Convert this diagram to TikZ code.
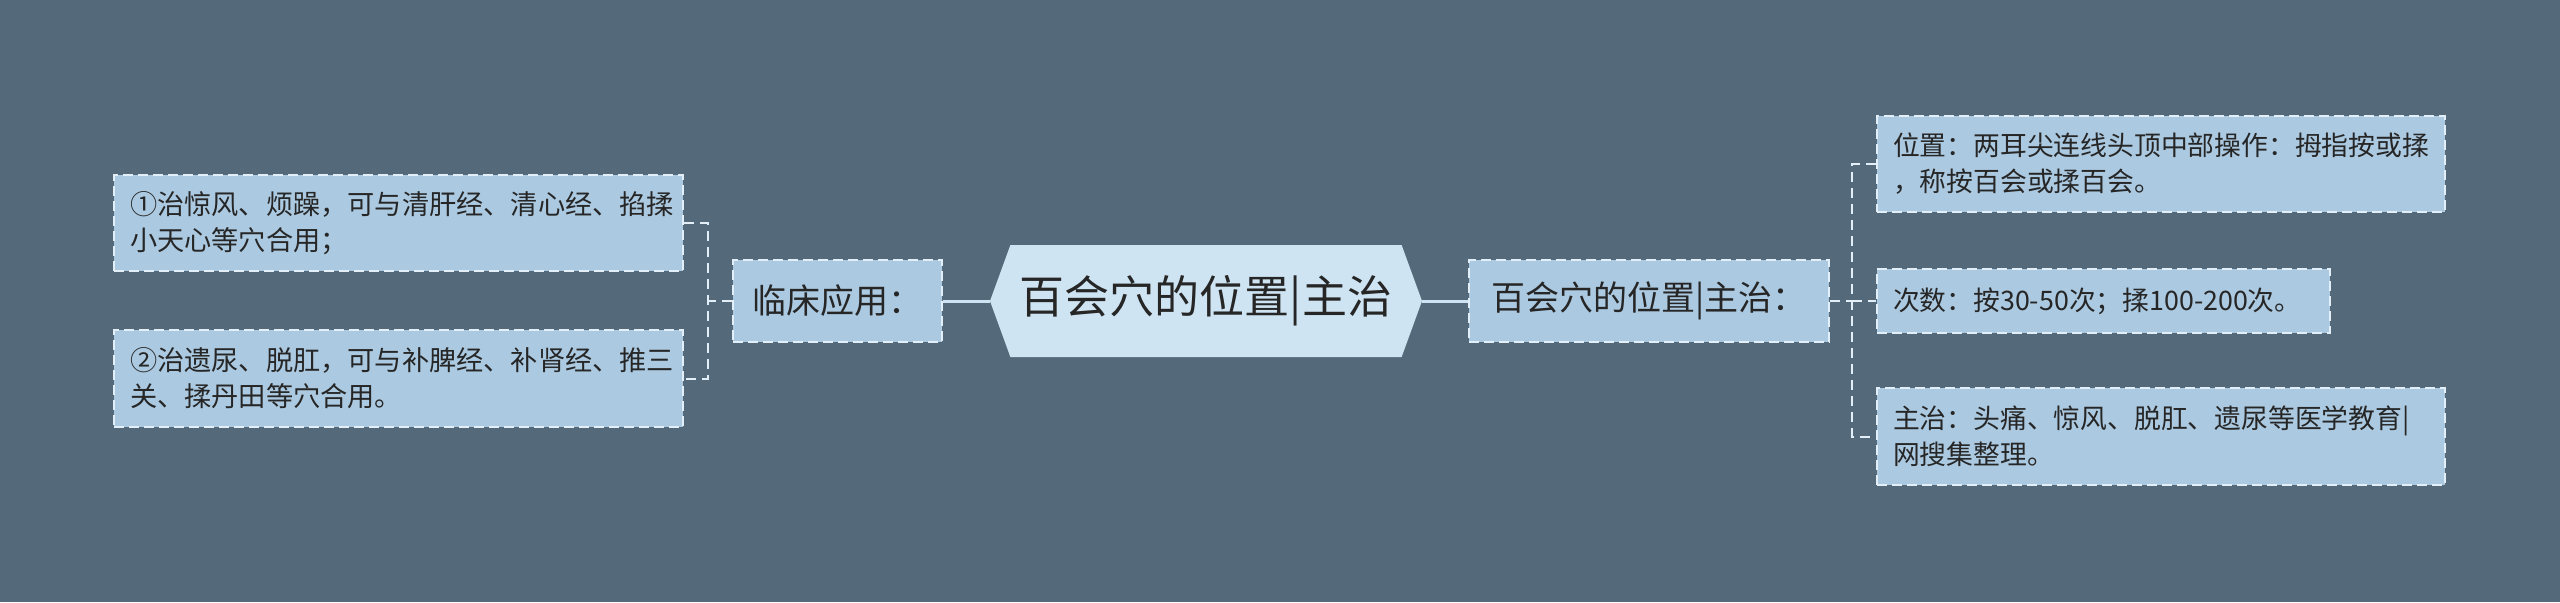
\documentclass[tikz,border=0pt]{standalone}
\usepackage{fontspec}
\setmainfont{Noto Sans CJK SC}
\usetikzlibrary{shapes.symbols, positioning}
\definecolor{bgslate}{RGB}{84,106,122}
\definecolor{boxblue}{RGB}{171,201,224}
\definecolor{hexblue}{RGB}{207,228,242}
\definecolor{dashwhite}{RGB}{226,239,248}
\definecolor{inkgray}{RGB}{38,38,38}

\begin{document}
\begin{tikzpicture}[x=0.5pt, y=-0.5pt,
    leaf/.style={draw=dashwhite, fill=boxblue, line width=1pt, dash pattern=on 5pt off 2.5pt,
        text=inkgray, align=left, inner xsep=8pt, inner ysep=0pt, anchor=center},
    mid/.style={draw=dashwhite, fill=boxblue, line width=1pt, dash pattern=on 5pt off 2.5pt,
        text=inkgray, inner sep=0pt, font=\fontsize{17pt}{20pt}\selectfont},
    hub/.style={signal, signal to=east and west, signal pointer angle=140, fill=hexblue,
        text=inkgray, inner sep=0pt, font=\fontsize{22.5pt}{26pt}\selectfont},
    trunk/.style={draw=hexblue, line width=1.5pt},
    twig/.style={draw=dashwhite, line width=1pt, dash pattern=on 5pt off 3pt}]

    % Background
    \fill[bgslate] (0,0) rectangle (2560,602);
    \useasboundingbox (0,0) rectangle (2560,602);

    % Central node
    \node[hub, minimum width=216pt, minimum height=56pt] (hub) at (1206,301) {百会穴的位置|主治};

    % Left branch: clinical use
    \node[mid, minimum width=104.5pt, minimum height=41pt] (use) at (837.5,301) {临床应用：};
    \node[leaf, text width=268.5pt, minimum height=48pt, font=\fontsize{13.6pt}{18pt}\selectfont]
        (use1) at (398.5,223) {①治惊风、烦躁，可与清肝经、清心经、掐揉\\小天心等穴合用；};
    \node[leaf, text width=268.5pt, minimum height=48.5pt, font=\fontsize{13.6pt}{18pt}\selectfont]
        (use2) at (398.5,378.5) {②治遗尿、脱肛，可与补脾经、补肾经、推三\\关、揉丹田等穴合用。};

    % Right branch: position and indications
    \node[mid, minimum width=180pt, minimum height=41pt] (pos) at (1649,301) {百会穴的位置|主治：};
    \node[leaf, text width=268pt, minimum height=48pt, font=\fontsize{13.4pt}{18pt}\selectfont]
        (pos1) at (2161,164) {位置：两耳尖连线头顶中部操作：拇指按或揉\\，称按百会或揉百会。};
    \node[leaf, text width=210.5pt, minimum height=32pt, font=\fontsize{13.4pt}{18pt}\selectfont]
        (pos2) at (2103.5,301) {次数：按30-50次；揉100-200次。};
    \node[leaf, text width=268pt, minimum height=48.5pt, font=\fontsize{13.4pt}{18pt}\selectfont]
        (pos3) at (2161,436.5) {主治：头痛、惊风、脱肛、遗尿等医学教育|\\网搜集整理。};

    % Connectors
    \coordinate (lbr) at (708,301);
    \coordinate (rbr) at (1852,301);
    \draw[trunk] (use.east) -- (hub.west);
    \draw[trunk] (hub.east) -- (pos.west);
    \draw[twig] (use.west) -- (lbr);
    \draw[twig] (use1.east) -| (lbr) |- (use2.east);
    \draw[twig] (pos.east) -- (rbr);
    \draw[twig] (pos1.west) -| (rbr) |- (pos3.west);
    \draw[twig] (rbr) -- (pos2.west);
\end{tikzpicture}
\end{document}
